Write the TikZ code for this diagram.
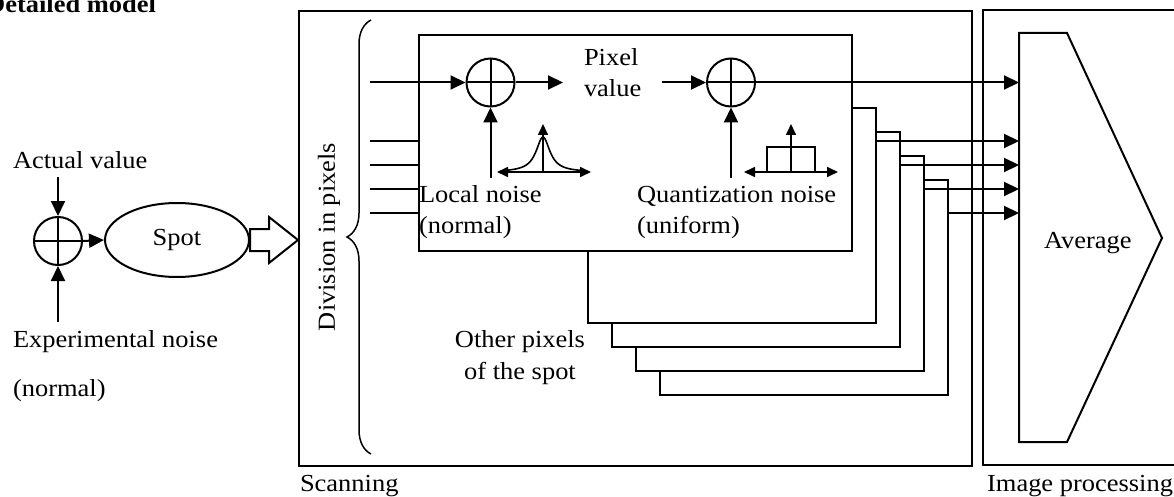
\documentclass[tikz,border=0pt]{standalone}
\usepackage{fontspec}
\setmainfont{Liberation Serif}[FakeStretch=1.08]
\usetikzlibrary{calc}
\usetikzlibrary{arrows.meta,shapes.geometric,decorations.pathreplacing}

\tikzset{
    box/.style={draw, fill=white, inner sep=0pt, anchor=north west},
    sum/.style={draw, circle, minimum size=48pt, inner sep=0pt,
        path picture={\draw (path picture bounding box.north) -- (path picture bounding box.south)
                            (path picture bounding box.west) -- (path picture bounding box.east);}},
    arr/.style={-{Triangle[length=15pt,width=14pt]}},
    axis/.style={line width=1.6pt, {Triangle[length=11pt,width=10pt]}-{Triangle[length=11pt,width=10pt]}},
    up/.style={line width=1.6pt, -{Triangle[length=11pt,width=10pt]}},
    lbl/.style={anchor=base west, align=left},
}

\begin{document}
\begin{tikzpicture}[x=1pt, y=-1pt, line width=2pt,
    every node/.style={inner sep=0pt, font=\fontsize{24.5}{31.5}\selectfont}]
    \useasboundingbox (0,0) rectangle (1174,497);

    % heading
    \node[anchor=base east, font=\fontsize{24.5}{31.5}\selectfont\bfseries] (title) at (157,12.5) {Detailed model};

    % spot formation
    \node[sum] (sumA) at (58,241) {};
    \node[lbl] (actual) at (12,169) {Actual value};
    \node[lbl] (expnoise) at (12,347) {Experimental noise};
    \node[lbl] (expnorm) at (12,396) {(normal)};
    \coordinate (avtop) at (58,177);
    \coordinate (enbot) at (58,322);
    \draw[arr] (avtop) -- (sumA.north);
    \draw[arr] (enbot) -- (sumA.south);

    \node[draw, ellipse, minimum width=144pt, minimum height=74pt] (spot) at (177,240) {Spot};
    \draw[arr] (sumA.east) -- (spot.west);

    % the two stages
    \node[box, minimum width=673pt, minimum height=455pt] (scan) at (298,10) {};
    \node[lbl] (scanlbl) at (299,491) {Scanning};
    \draw (1190,10) -- (983,10) -- (983,465) -- (1190,465);
    \node[anchor=base east] (proclbl) at (1174,491) {Image processing};

    % hollow arrow into the scanner
    \coordinate (fa) at (spot.east);
    \coordinate (fatip) at (spot.east -| scan.west);
    \draw ($(fa)+(0,-11)$) -- ++(19,0) -- ++(0,-12) -- (fatip)
          -- ($(fa)+(19,23)$) -- ++(0,-12) -- ($(fa)+(0,11)$) -- cycle;

    % division into pixels
    \draw[line width=1.5pt, decorate, decoration={brace, amplitude=24pt}] (371,454) -- (371,20);
    \node[rotate=90] (div) at (329,237) {Division in pixels};

    % other pixels, stacked behind
    \foreach \k in {3,2,1,0} {
        \node[box, minimum width=288pt, minimum height=215pt] (pix\k) at ({587+24*\k},{107+24*\k}) {};
    }
    \node[box, minimum width=433pt, minimum height=216pt] (front) at (418,34) {};
    \node[anchor=base, align=center] (others) at (520,379) {Other pixels\\of the spot};

    % pixel chain
    \node[sum] (sum1) at (490.5,82.5) {};
    \node[sum] (sum2) at (731,82.5) {};
    \node[lbl, inner xsep=20pt] (pv) at (563,97) {Pixel\\value};
    \coordinate (split) at (370,82.5);
    \draw[arr] (split) -- (sum1.west);
    \draw[arr] (sum1.east) -- (sum1 -| pv.west);
    \draw[arr] (pv.east |- sum2) -- (sum2.west);

    % noise sources
    \node[lbl] (local) at (418,233.5) {Local noise\\(normal)};
    \node[lbl] (quant) at (636,233.5) {Quantization noise\\(uniform)};
    \coordinate (lnbot) at (490.5,178);
    \coordinate (qnbot) at (731,178);
    \draw[arr] (lnbot) -- (sum1.south);
    \draw[arr] (qnbot) -- (sum2.south);

    % peaked density
    \coordinate (lpL) at (497,172);
    \coordinate (lpR) at (591,172);
    \coordinate (lp0) at (543,172);
    \draw[axis] (lpL) -- (lpR);
    \draw[up] (lp0) -- ++(0,-48);
    \draw[line width=1.6pt] plot[domain=-38:38, samples=77, smooth] ({543+\x},{172-35/(1+(\x/8.4)^2)});

    % flat density
    \coordinate (quL) at (744,172);
    \coordinate (quR) at (838,172);
    \coordinate (qu0) at (791,172);
    \draw[axis] (quL) -- (quR);
    \draw[up] (qu0) -- ++(0,-48);
    \draw[line width=1.6pt] (767,172) -- (767,147) -- (815,147) -- (815,172);

    % averaging block
    \draw (1019,33) -- (1067,33) -- (1162,238) -- (1067,442) -- (1019,442) -- cycle;
    \coordinate (avgW) at (1019,238);
    \node[lbl] (avg) at (1043,248) {Average};

    % pixel values in and out
    \draw[arr] (sum2.east) -- (sum2 -| avgW);
    \foreach \k in {0,1,2,3} {
        \coordinate (in\k) at (370,{141+24*\k});
        \draw (in\k) -- (in\k -| front.west);
        \coordinate (out\k) at ($(pix\k.north east)+(0,34)$);
        \draw[arr] (out\k) -- (out\k -| avgW);
    }
\end{tikzpicture}
\end{document}
